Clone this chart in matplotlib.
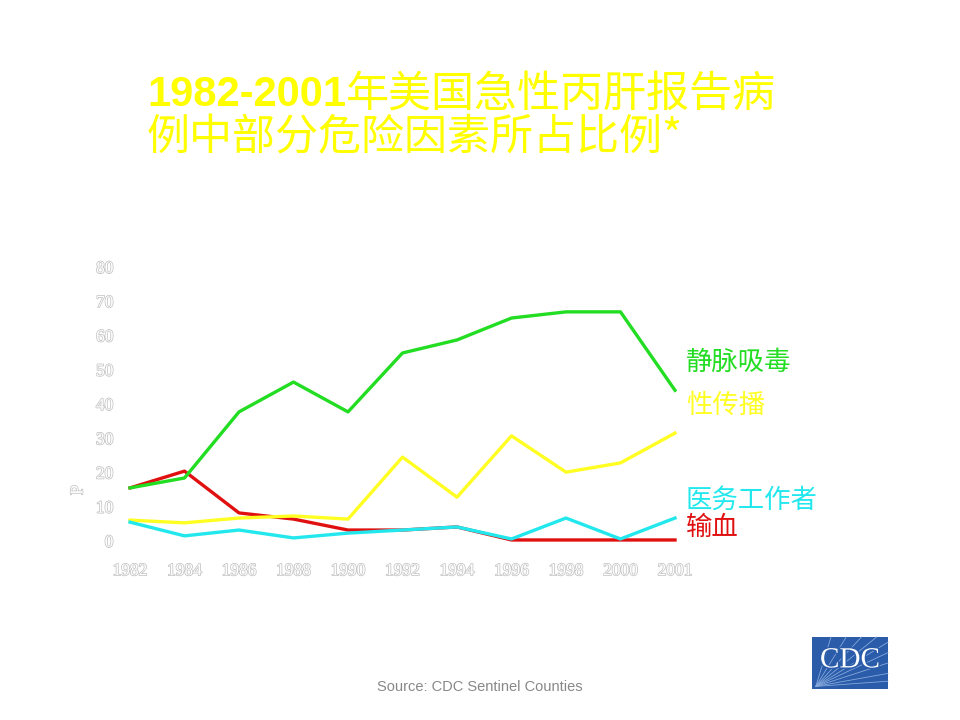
#!/usr/bin/env python3
"""Share of selected risk factors among reported acute hepatitis C cases, 1982-2001."""

import matplotlib
matplotlib.use('Agg')
import matplotlib.pyplot as plt
import matplotlib.patheffects as pe
from matplotlib.patches import Rectangle

# -----------------------------------------------------------------------
# Data
# -----------------------------------------------------------------------
years = ['1982', '1984', '1986', '1988', '1990', '1992',
         '1994', '1996', '1998', '2000', '2001']
idu = [15.5, 18.4, 37.7, 46.4, 37.7, 54.9, 58.7, 65.1, 66.9, 66.9, 44.0]
sexual = [6.1, 5.3, 6.7, 7.3, 6.4, 24.5, 12.8, 30.7, 20.1, 22.8, 31.5]
healthcare = [5.5, 1.5, 3.2, 0.9, 2.3, 3.2, 4.1, 0.6, 6.7, 0.6, 6.7]
transfusion = [15.5, 20.4, 8.2, 6.4, 3.2, 3.2, 4.1, 0.3, 0.3, 0.3, 0.3]
yticks = [0, 10, 20, 30, 40, 50, 60, 70, 80]

series = [
    ('静脉吸毒', idu, '#22dd22', 362),
    ('性传播', sexual, '#ffff22', 405),
    ('医务工作者', healthcare, '#22e8ee', 500),
    ('输血', transfusion, '#e01010', 527),
]

W, H = 960, 720
fig = plt.figure(figsize=(9.6, 7.2), dpi=100)
fig.patch.set_facecolor('white')

# axes placed in pixel terms: x 130..675, y 541..267 (from top)
ax = fig.add_axes([130 / W, 1 - 541 / H, (675 - 130) / W, (541 - 267) / H])
ax.set_xlim(0, len(years) - 1)
ax.set_ylim(0, 80)
for sp in ax.spines.values():
    sp.set_visible(False)

x = list(range(len(years)))
# draw transfusion first so the others sit on top of it
for name, vals, color, _ in [series[3], series[1], series[0], series[2]]:
    ax.plot(x, vals, color=color, linewidth=2.4, clip_on=False)

outline = [pe.withStroke(linewidth=1.1, foreground='#c4c4c4')]
ax.set_xticks(x)
ax.set_xticklabels(years)
ax.set_yticks(yticks)
ax.set_yticklabels([str(v) for v in yticks])
ax.tick_params(length=0)
ax.tick_params(axis='x', pad=16)
ax.tick_params(axis='y', pad=12)
for lbl in ax.get_xticklabels() + ax.get_yticklabels():
    lbl.set_fontfamily('Liberation Serif')
    lbl.set_fontsize(12.5)
    lbl.set_color('white')
    lbl.set_path_effects(outline)

fig.text(78 / W, 1 - 490 / H, 'P', rotation=90, ha='center', va='center',
         family='Liberation Serif', fontsize=13, color='white',
         path_effects=outline)

# series labels at right
for name, vals, color, ypix in series:
    fig.text(686 / W, 1 - ypix / H, name, ha='left', va='center',
             family=['Noto Sans CJK SC', 'DejaVu Sans'], fontsize=19,
             color=color)

# title
yellow = '#ffff00'
t1 = fig.text(147 / W, 1 - 95 / H, '1982-2001', ha='left', va='center',
              family='Liberation Sans', weight='bold', fontsize=30,
              color=yellow)
fig.canvas.draw()
bb = t1.get_window_extent()
fig.text(bb.x1 / W, 1 - 95 / H, '年美国急性丙肝报告病', ha='left', va='center',
         family=['Noto Sans CJK SC', 'DejaVu Sans'], fontsize=31, color=yellow)
fig.text(147 / W, 1 - 138 / H, '例中部分危险因素所占比例*', ha='left',
         va='center', family=['Noto Sans CJK SC', 'DejaVu Sans'],
         fontsize=31, color=yellow)

# source
fig.text(480 / W, 1 - 687 / H, 'Source: CDC Sentinel Counties', ha='center',
         va='center', family='Liberation Sans', fontsize=10.5, color='#888888')

# CDC logo
lx0, ly0, lw, lh = 812 / W, 1 - 689 / H, 76 / W, 52 / H
fig.patches.append(Rectangle((lx0, ly0), lw, lh, transform=fig.transFigure,
                             facecolor='#2a5caa', edgecolor='none'))
ends = [(0.25, 1.0), (0.45, 1.0), (0.65, 1.0), (0.85, 1.0), (1.0, 0.9),
        (1.0, 0.7), (1.0, 0.5), (1.0, 0.3), (1.0, 0.15)]
for ex, ey in ends:
    fig.add_artist(plt.Line2D([lx0 + lw * 0.05, lx0 + lw * ex],
                              [ly0 + lh * 0.05, ly0 + lh * ey],
                              transform=fig.transFigure, color='#86a8dc',
                              linewidth=0.6))
fig.text(lx0 + lw / 2, ly0 + lh * 0.55, 'CDC', ha='center', va='center',
         family='Liberation Serif', fontsize=21, color='white',
         path_effects=[pe.withStroke(linewidth=2, foreground='#2a5caa')])

fig.savefig('out.png', dpi=100, facecolor='white')
